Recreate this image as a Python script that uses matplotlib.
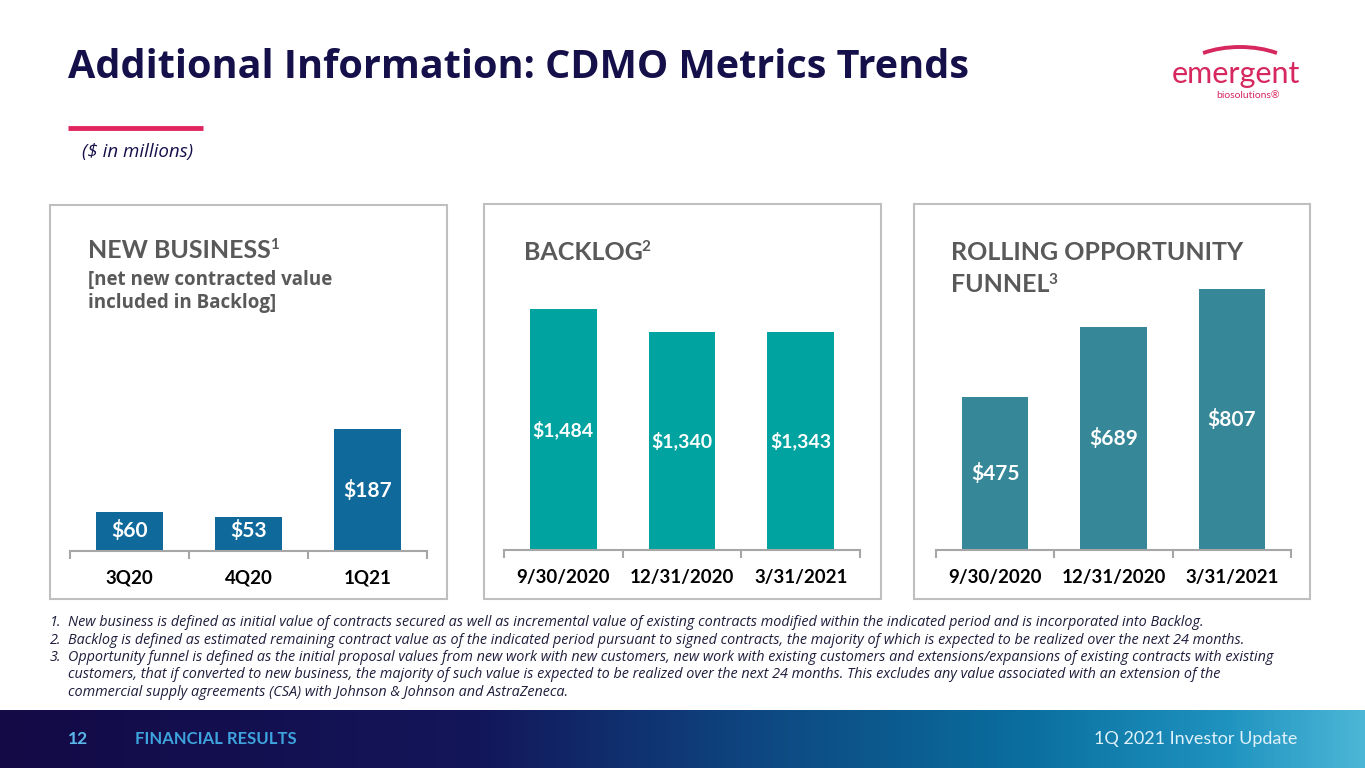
import numpy as np
import matplotlib.pyplot as plt
from matplotlib.patches import Rectangle, Arc
from matplotlib.colors import LinearSegmentedColormap

plt.rcParams['font.family'] = ['Lato', 'DejaVu Sans']
WIDE = ['Open Sans', 'DejaVu Sans']

W, H = 1365, 768

title = "Additional Information: CDMO Metrics Trends"
subtitle = "($ in millions)"

nb_labels = ["3Q20", "4Q20", "1Q21"]
nb_values = [60, 53, 187]

backlog_labels = ["9/30/2020", "12/31/2020", "3/31/2021"]
backlog_values = [1484, 1340, 1343]

funnel_labels = ["9/30/2020", "12/31/2020", "3/31/2021"]
funnel_values = [475, 689, 807]

footnotes = [
    ("1.", "New business is defined as initial value of contracts secured as well as incremental value of existing contracts modified within the indicated period and is incorporated into Backlog."),
    ("2.", "Backlog is defined as estimated remaining contract value as of the indicated period pursuant to signed contracts, the majority of which is expected to be realized over the next 24 months."),
    ("3.", "Opportunity funnel is defined as the initial proposal values from new work with new customers, new work with existing customers and extensions/expansions of existing contracts with existing"),
    ("", "customers, that if converted to new business, the majority of such value is expected to be realized over the next 24 months. This excludes any value associated with an extension of the"),
    ("", "commercial supply agreements (CSA) with Johnson & Johnson and AstraZeneca."),
]

NAVY = "#15104a"
GREY = "#595959"
PINK = "#d6285f"


def fx(x):
    return x / W


def fy(y):
    return 1 - y / H


fig = plt.figure(figsize=(W / 100, H / 100), dpi=100)
fig.patch.set_facecolor("white")

# overlay in pixel units for the hand-drawn bits (rule, logo arc)
over = fig.add_axes([0, 0, 1, 1], zorder=5)
over.set_xlim(0, W)
over.set_ylim(0, H)
over.axis("off")
over.patch.set_alpha(0)

# title block
fig.text(fx(68), fy(67), title, fontsize=28.5, fontweight="bold", color=NAVY, va="center", family=WIDE)
over.plot([68, 203], [H - 128, H - 128], color="#e0255f", lw=3.5, solid_capstyle="butt")
fig.text(fx(82), fy(152), subtitle, fontsize=13.5, style="italic", color=NAVY, va="center", family=WIDE)

# logo
fig.text(fx(1236), fy(74), "emergent", fontsize=22, color=PINK, ha="center", va="center")
fig.text(fx(1248), fy(96), "biosolutions\u00ae", fontsize=7.5, color=PINK, ha="center", va="center")
over.add_patch(Arc((1240, H - 78), 124, 62, theta1=34, theta2=146, color=PINK, lw=2.8))

panels = [
    dict(box=(50, 205, 447, 599), axx=(70, 427), base=551, top=205, ymax=532,
         labels=nb_labels, values=nb_values, color="#0f6a9b", vsize=15, vmin=32, hx=88,
         head=[("NEW BUSINESS", "1", 250)],
         sub=["[net new contracted value", "included in Backlog]"]),
    dict(box=(484, 204, 881, 599), axx=(504, 860), base=550, top=205, ymax=2124,
         labels=backlog_labels, values=backlog_values, color="#00a3a0", vsize=14, vmin=0, hx=524,
         head=[("BACKLOG", "2", 252)], sub=[]),
    dict(box=(914, 204, 1310, 599), axx=(936, 1291), base=550, top=205, ymax=1068,
         labels=funnel_labels, values=funnel_values, color="#368798", vsize=15, vmin=0, hx=951,
         head=[("ROLLING OPPORTUNITY", "", 253), ("FUNNEL", "3", 285)], sub=[]),
]

renderer = fig.canvas.get_renderer()

for p in panels:
    x0, y0, x1, y1 = p["box"]
    fig.add_artist(Rectangle((fx(x0), fy(y1)), fx(x1) - fx(x0), fy(y0) - fy(y1),
                             transform=fig.transFigure, fill=False,
                             edgecolor="#bfbfbf", lw=1.5))
    ax = fig.add_axes([fx(p["axx"][0]), fy(p["base"]),
                       fx(p["axx"][1]) - fx(p["axx"][0]), fy(p["top"]) - fy(p["base"])])
    ax.patch.set_alpha(0)
    pos = np.arange(len(p["values"]))
    ax.bar(pos, p["values"], width=0.56, color=p["color"])
    ax.set_xlim(-0.5, len(pos) - 0.5)
    ax.set_ylim(0, p["ymax"])
    for s in ["top", "right", "left"]:
        ax.spines[s].set_visible(False)
    ax.spines["bottom"].set_color("#a6a6a6")
    ax.spines["bottom"].set_linewidth(1.5)
    ax.set_yticks([])
    ax.set_xticks(pos, p["labels"], fontsize=13.5, fontweight="bold", color="black")
    ax.tick_params(axis="x", which="major", length=0, pad=13.5)
    ax.set_xticks(np.arange(len(pos) + 1) - 0.5, minor=True)
    ax.tick_params(axis="x", which="minor", length=6, width=1.5, color="#a6a6a6", direction="out")
    for xi, v in zip(pos, p["values"]):
        ax.text(xi, max(v / 2, p["vmin"]), f"${v:,}", color="white", fontsize=p["vsize"],
                fontweight="bold", ha="center", va="center")

    hx = p["hx"]
    for main, sup, hy in p["head"]:
        t = fig.text(fx(hx), fy(hy), main, fontsize=18, fontweight="bold", color=GREY, va="center")
        if sup:
            bb = t.get_window_extent(renderer)
            fig.text(fx(bb.x1 - 1), fy(hy - 5), sup, fontsize=11, fontweight="bold",
                     color=GREY, va="center")
    for i, line in enumerate(p["sub"]):
        fig.text(fx(hx), fy(280 + 23 * i), line, fontsize=13.5, fontweight="bold", color=GREY,
                 va="center", family=WIDE)

# footnotes
for i, (num, line) in enumerate(footnotes):
    yy = fy(626 + 17.5 * i)
    if num:
        fig.text(fx(50), yy, num, fontsize=10.4, style="italic", color="#1e1e3c",
                 va="baseline", family=WIDE)
    fig.text(fx(68), yy, line, fontsize=10.4, style="italic", color="#1e1e3c",
             va="baseline", family=WIDE)

# footer band
band = fig.add_axes([0, 0, 1, fy(710)])
cmap = LinearSegmentedColormap.from_list(
    "band", [(0, "#140a46"), (0.35, "#13165a"), (0.55, "#0e4680"), (0.75, "#0a6e9e"),
             (0.9, "#1f93c0"), (1.0, "#4cb6d6")])
band.imshow(np.linspace(0, 1, 512)[None, :], aspect="auto", cmap=cmap, extent=[0, 1, 0, 1])
band.axis("off")
fig.text(fx(68), fy(739), "12", fontsize=12.5, fontweight="bold", color="#5ab8ea", va="center")
fig.text(fx(135), fy(739), "FINANCIAL RESULTS", fontsize=12, fontweight="bold", color="#3ea4de", va="center")
fig.text(fx(1297), fy(739), "1Q 2021 Investor Update", fontsize=13, color="#dff1fa",
         ha="right", va="center")

fig.savefig("out.png", dpi=100)
